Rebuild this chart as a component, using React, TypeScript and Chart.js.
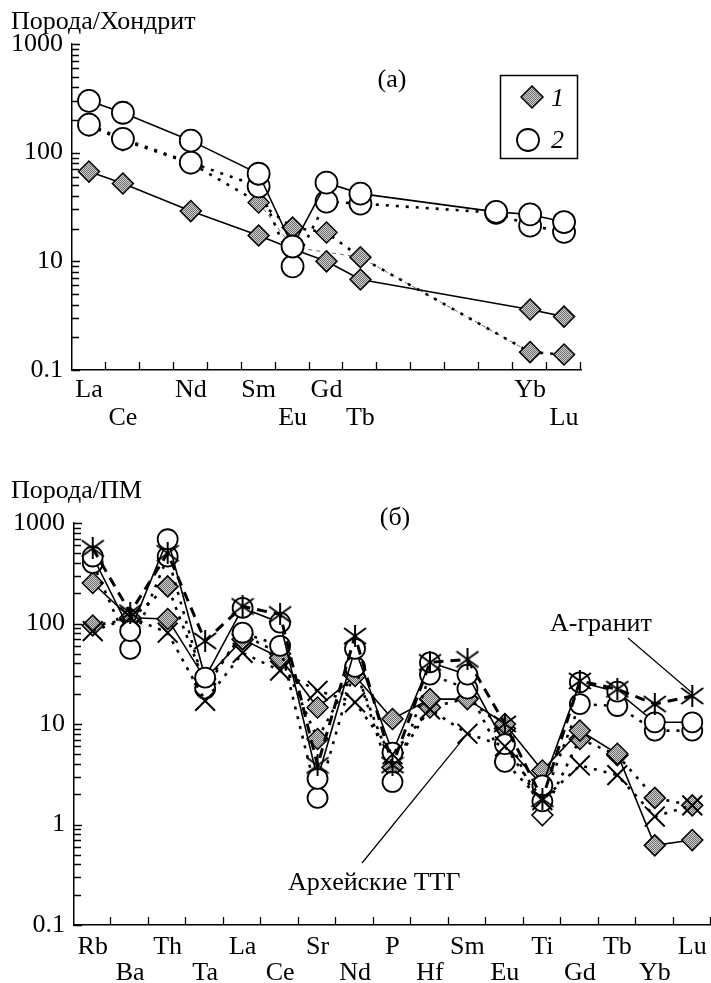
import React, { useEffect, useRef } from "react";
import { Chart, registerables } from "chart.js";

Chart.register(...registerables);

const FONT = '"Liberation Serif", "Times New Roman", Times, serif';
const FS = 26;

// ---------------- panel (а): Порода / Хондрит ----------------
const reeElements = ["La", "Ce", "Pr", "Nd", "Pm", "Sm", "Eu", "Gd", "Tb", "Dy", "Ho", "Er", "Tm", "Yb", "Lu"];
const reeTickLabels = ["La", "Ce", "", "Nd", "", "Sm", "Eu", "Gd", "Tb", "", "", "", "", "Yb", "Lu"];
const reeTickRows = [0, 1, 0, 0, 0, 0, 1, 0, 1, 0, 0, 0, 0, 0, 1];
const reeYTickValues = [1, 10, 100, 1000];
const reeYTickLabels = ["0.1", "10", "100", "1000"];

// 2 — circles
const ree2Solid = [300, 233, null, 129, null, 64, 13.7, 53, 42, null, null, null, 28.5, 27, 23];
const ree2Dotted = [181, 134, null, 81, null, 49, 9.0, 35.5, 34, null, null, null, 28, 21.3, 18.7];
// 1 — diamonds
const ree1Solid = [67, 52, null, 29, null, 17.3, 13, 10, 6.8, null, null, null, null, 3.6, 3.1];
const ree1Dotted = [178, 130, null, 80, null, 34.8, 20.5, 18.4, 10.9, null, null, null, null, 1.46, 1.39];
const ree1Thin = [null, null, null, null, null, 34.8, 13.5, null, 10.9, null, null, null, null, 1.46, null];

// ---------------- panel (б): Порода / ПМ ----------------
const pmElements = ["Rb", "Ba", "Th", "Ta", "La", "Ce", "Sr", "Nd", "P", "Hf", "Sm", "Eu", "Ti", "Gd", "Tb", "Yb", "Lu"];
const pmTickRows = [0, 1, 0, 1, 0, 1, 0, 1, 0, 1, 0, 1, 0, 1, 0, 1, 0];
const pmYTickValues = [0.1, 1, 10, 100, 1000];
const pmYTickLabels = ["0.1", "1", "10", "100", "1000"];

const pmAGranite = [560, 128, 500, 67, 148, 123, 3.87, 75, 3.9, 41, 44, 10, 1.8, 26.8, 22.2, 15.8, 19];
const pmArcheanTTG = [84, 115, 81, 17, 51, 34, 21.4, 16.4, 5, 14, 8.0, 6, 1.75, 3.87, 3.1, 1.2, 1.55];
const pm2Solid = [464, 84, 689, 29, 143, 102, 2.85, 56, 5.2, 41, 31, 6.3, 2.45, 26, 21, 10.4, 10.4];
const pm2Dotted = [399, 56, 464, 22.5, 81, 60, 1.84, 37, 2.65, 31, 22.5, 4.2, 1.7, 15.8, 15.1, 8.6, 8.6];
const pm1Solid = [253, 114, 111, 28, 69.5, 45.7, 14.6, 30, 11.2, 17.7, 17.7, 10, 3.45, 8.6, 5.05, 0.62, 0.7];
const pm1Dotted = [95.5, 110, 234, 25, 78, 50, 7.1, 35, 3.7, 14.6, 18, 9, 1.24, 7.1, 4.9, 1.84, 1.55];
const pmOpenMarkerElement = "Ti";

// ---------------- helpers ----------------
function logTicks(decades: number[]) {
  const out: { value: number; major: boolean }[] = [];
  for (let i = 0; i < decades.length; i++) {
    const d = decades[i];
    out.push({ value: d, major: true });
    if (i < decades.length - 1) {
      for (let m = 2; m <= 9; m++) out.push({ value: parseFloat((d * m).toPrecision(6)), major: false });
    }
  }
  return out;
}

function yLabel(values: number[], labels: string[]) {
  return (v: any) => {
    const idx = values.findIndex((t) => Math.abs(Math.log10(t) - Math.log10(Number(v))) < 1e-6);
    return idx >= 0 ? labels[idx] : "";
  };
}

function makePattern(ctx: CanvasRenderingContext2D) {
  const c = document.createElement("canvas");
  c.width = 4;
  c.height = 4;
  const p = c.getContext("2d")!;
  for (let x = 0; x < 4; x++) {
    for (let y = 0; y < 4; y++) {
      p.fillStyle = (x + y) % 2 === 0 ? "#707070" : "#cdcdcd";
      p.fillRect(x, y, 1, 1);
    }
  }
  return ctx.createPattern(c, "repeat")!;
}

function makeAsterisk() {
  const c = document.createElement("canvas");
  c.width = 24;
  c.height = 22;
  const g = c.getContext("2d")!;
  g.strokeStyle = "#000";
  g.lineWidth = 2;
  g.beginPath();
  g.moveTo(12, 0);
  g.lineTo(12, 22);
  g.moveTo(1, 3);
  g.lineTo(23, 19);
  g.moveTo(1, 19);
  g.lineTo(23, 3);
  g.stroke();
  return c;
}

function zeroPadding(s: any) {
  s.paddingLeft = 0;
  s.paddingRight = 0;
  s.paddingTop = 0;
  s.paddingBottom = 0;
}

function xScale(labels: string[], rows: number[], height: number, padding: number, lineHeight: number) {
  return {
    type: "category",
    offset: true,
    border: { color: "#000", width: 1.5 },
    grid: { offset: true, drawOnChartArea: false, drawTicks: false, color: "#000" },
    ticks: {
      autoSkip: false,
      maxRotation: 0,
      minRotation: 0,
      padding,
      color: "#000",
      font: { family: FONT, size: FS, lineHeight },
      callback: (_v: any, i: number) => {
        const t = labels[i];
        if (!t) return "";
        return rows[i] ? ["", t] : t;
      },
    },
    afterFit: (s: any) => {
      s.height = height;
      zeroPadding(s);
    },
  };
}

function yScale(values: number[], labels: string[], width: number) {
  return {
    type: "logarithmic",
    min: values[0],
    max: values[values.length - 1],
    border: { color: "#000", width: 1.5 },
    grid: { drawOnChartArea: false, drawTicks: false, color: "#000" },
    afterBuildTicks: (s: any) => {
      s.ticks = logTicks(values);
    },
    ticks: {
      autoSkip: false,
      padding: 9,
      color: "#000",
      font: { family: FONT, size: FS },
      callback: yLabel(values, labels),
    },
    afterFit: (s: any) => {
      s.width = width;
      zeroPadding(s);
    },
  };
}

// tick marks on the inside of both axes, positioned by the chart's own scales
function drawInsideTicks(chart: any, yDecades: number[]) {
  const ctx = chart.ctx as CanvasRenderingContext2D;
  const ys = chart.scales.y;
  const area = chart.chartArea;
  ctx.save();
  ctx.setLineDash([]);
  ctx.strokeStyle = "#000";
  ctx.lineWidth = 1.3;
  ctx.beginPath();
  const yt = logTicks(yDecades);
  for (let k = 0; k < yt.length; k++) {
    const y = Math.round(ys.getPixelForValue(yt[k].value)) + 0.5;
    ctx.moveTo(area.left, y);
    ctx.lineTo(area.left + (yt[k].major ? 8 : 7), y);
  }
  const n = chart.data.labels.length;
  const w = (area.right - area.left) / n;
  for (let i = 1; i <= n; i++) {
    const x = Math.round(area.left + i * w) - 0.5;
    ctx.moveTo(x, area.bottom);
    ctx.lineTo(x, area.bottom - 8);
  }
  ctx.stroke();
  ctx.restore();
}

const SOLID = { borderDash: [] as number[], borderWidth: 1.6 };
const DOTTED = { borderDash: [3, 7], borderWidth: 2.6 };
const DASHED = { borderDash: [10, 7], borderWidth: 3 };
const THIN = { borderDash: [4, 4], borderWidth: 0.8 };

function lineDs(label: string, data: (number | null)[], style: any, point: any) {
  return {
    label,
    data,
    borderColor: "#000",
    backgroundColor: "#000",
    tension: 0,
    spanGaps: true,
    fill: false,
    clip: false,
    pointHoverRadius: point.pointRadius,
    ...style,
    ...point,
  };
}

function drawDiamond(ctx: CanvasRenderingContext2D, x: number, y: number, r: number, fill: any) {
  ctx.beginPath();
  ctx.moveTo(x - r, y);
  ctx.lineTo(x, y - r);
  ctx.lineTo(x + r, y);
  ctx.lineTo(x, y + r);
  ctx.closePath();
  ctx.fillStyle = fill;
  ctx.fill();
  ctx.lineWidth = 1.5;
  ctx.strokeStyle = "#000";
  ctx.stroke();
}

function drawCircle(ctx: CanvasRenderingContext2D, x: number, y: number, r: number) {
  ctx.beginPath();
  ctx.arc(x, y, r, 0, Math.PI * 2);
  ctx.fillStyle = "#fff";
  ctx.fill();
  ctx.lineWidth = 1.8;
  ctx.strokeStyle = "#000";
  ctx.stroke();
}

export default function App() {
  const refA = useRef<HTMLCanvasElement>(null);
  const refB = useRef<HTMLCanvasElement>(null);

  useEffect(() => {
    const cA = refA.current!;
    const cB = refB.current!;
    const pattern = makePattern(cA.getContext("2d")!);
    const star = makeAsterisk();

    const circleA = { pointStyle: "circle", pointRadius: 11, pointBackgroundColor: "#fff", pointBorderColor: "#000", pointBorderWidth: 1.8 };
    const diamondA = { pointStyle: "rectRot", pointRadius: 10.5, pointBackgroundColor: pattern, pointBorderColor: "#000", pointBorderWidth: 1.5 };
    const noPoint = { pointRadius: 0, borderColor: "#444" };

    const annotA = {
      id: "annotA",
      afterDraw(chart: any) {
        drawInsideTicks(chart, reeYTickValues);
        const ctx = chart.ctx as CanvasRenderingContext2D;
        ctx.save();
        ctx.fillStyle = "#000";
        ctx.font = `${FS}px ${FONT}`;
        ctx.textBaseline = "alphabetic";
        ctx.textAlign = "left";
        ctx.fillText("Порода/Хондрит", 11, 29);
        ctx.textAlign = "center";
        ctx.fillText("(а)", 392, 87);
        ctx.lineWidth = 1.5;
        ctx.strokeStyle = "#000";
        ctx.strokeRect(500.5, 75.5, 77, 83);
        drawDiamond(ctx, 532, 97, 11, pattern);
        drawCircle(ctx, 528, 140, 11);
        ctx.fillStyle = "#000";
        ctx.font = `italic ${FS}px ${FONT}`;
        ctx.textAlign = "left";
        ctx.fillText("1", 551, 106);
        ctx.fillText("2", 551, 148);
        ctx.restore();
      },
    };

    const chartA = new Chart(cA, {
      type: "line",
      data: {
        labels: reeElements,
        datasets: [
          lineDs("2", ree2Solid, SOLID, circleA),
          lineDs("2", ree2Dotted, DOTTED, circleA),
          lineDs("1", ree1Solid, SOLID, diamondA),
          lineDs("1", ree1Dotted, DOTTED, diamondA),
          lineDs("1", ree1Thin, THIN, noPoint),
        ],
      },
      options: {
        responsive: false,
        animation: false,
        devicePixelRatio: 1,
        events: [],
        layout: { autoPadding: false, padding: { top: 44, left: 0, right: 130, bottom: 0 } },
        plugins: { legend: { display: false }, tooltip: { enabled: false }, title: { display: false } },
        scales: {
          x: xScale(reeTickLabels, reeTickRows, 70, 6, 28 / FS),
          y: yScale(reeYTickValues, reeYTickLabels, 72),
        },
      } as any,
      plugins: [annotA],
    } as any);

    const circleB = { pointStyle: "circle", pointRadius: 10, pointBackgroundColor: "#fff", pointBorderColor: "#000", pointBorderWidth: 1.8 };
    const diamondB = { pointStyle: "rectRot", pointRadius: 10.5, pointBackgroundColor: pattern, pointBorderColor: "#000", pointBorderWidth: 1.5 };
    const openIdx = pmElements.indexOf(pmOpenMarkerElement);
    const diamondBOpen = {
      ...diamondB,
      pointBackgroundColor: (c: any) => (c.dataIndex === openIdx ? "#fff" : pattern),
    };
    const asteriskB = { pointStyle: star, pointRadius: 11, pointBorderColor: "#000", pointBorderWidth: 2 };
    const crossB = { pointStyle: "crossRot", pointRadius: 14, pointBorderColor: "#000", pointBorderWidth: 2 };

    const annotB = {
      id: "annotB",
      afterDraw(chart: any) {
        drawInsideTicks(chart, pmYTickValues);
        const ctx = chart.ctx as CanvasRenderingContext2D;
        const xs = chart.scales.x;
        const ys = chart.scales.y;
        ctx.save();
        ctx.fillStyle = "#000";
        ctx.font = `${FS}px ${FONT}`;
        ctx.textBaseline = "alphabetic";
        ctx.textAlign = "left";
        ctx.fillText("Порода/ПМ", 11, 58);
        ctx.textAlign = "center";
        ctx.fillText("(б)", 395, 85);
        ctx.textAlign = "left";
        ctx.fillText("А-гранит", 550, 191);
        ctx.fillText("Архейские ТТГ", 288, 450);
        ctx.strokeStyle = "#000";
        ctx.lineWidth = 1.2;
        const li = pmElements.length - 1;
        const ax = xs.getPixelForValue(li);
        const ay = ys.getPixelForValue(pmAGranite[li]);
        ctx.beginPath();
        ctx.moveTo(628, 198);
        ctx.lineTo(ax, ay - 3);
        ctx.stroke();
        const si = pmElements.indexOf("Sm");
        const tx = xs.getPixelForValue(si);
        const ty = ys.getPixelForValue(pmArcheanTTG[si]);
        ctx.beginPath();
        ctx.moveTo(362, 423);
        ctx.lineTo(tx, ty);
        ctx.stroke();
        ctx.restore();
      },
    };

    const chartB = new Chart(cB, {
      type: "line",
      data: {
        labels: pmElements,
        datasets: [
          lineDs("А-гранит", pmAGranite, DASHED, asteriskB),
          lineDs("Архейские ТТГ", pmArcheanTTG, DOTTED, crossB),
          lineDs("2", pm2Solid, SOLID, circleB),
          lineDs("2", pm2Dotted, DOTTED, circleB),
          lineDs("1", pm1Solid, SOLID, diamondB),
          lineDs("1", pm1Dotted, DOTTED, diamondBOpen),
        ],
      },
      options: {
        responsive: false,
        animation: false,
        devicePixelRatio: 1,
        events: [],
        layout: { autoPadding: false, padding: { top: 83, left: 0, right: 0, bottom: 0 } },
        plugins: { legend: { display: false }, tooltip: { enabled: false }, title: { display: false } },
        scales: {
          x: xScale(pmElements, pmTickRows, 58, 9, 26 / FS),
          y: yScale(pmYTickValues, pmYTickLabels, 74),
        },
      } as any,
      plugins: [annotB],
    } as any);

    return () => {
      chartA.destroy();
      chartB.destroy();
    };
  }, []);

  return (
    <div style={{ position: "absolute", left: 0, top: 0, width: 711, height: 983, background: "#fff", overflow: "hidden" }}>
      <canvas ref={refA} width={711} height={440} style={{ position: "absolute", left: 0, top: 0, width: 711, height: 440 }} />
      <canvas ref={refB} width={711} height={543} style={{ position: "absolute", left: 0, top: 440, width: 711, height: 543 }} />
    </div>
  );
}
